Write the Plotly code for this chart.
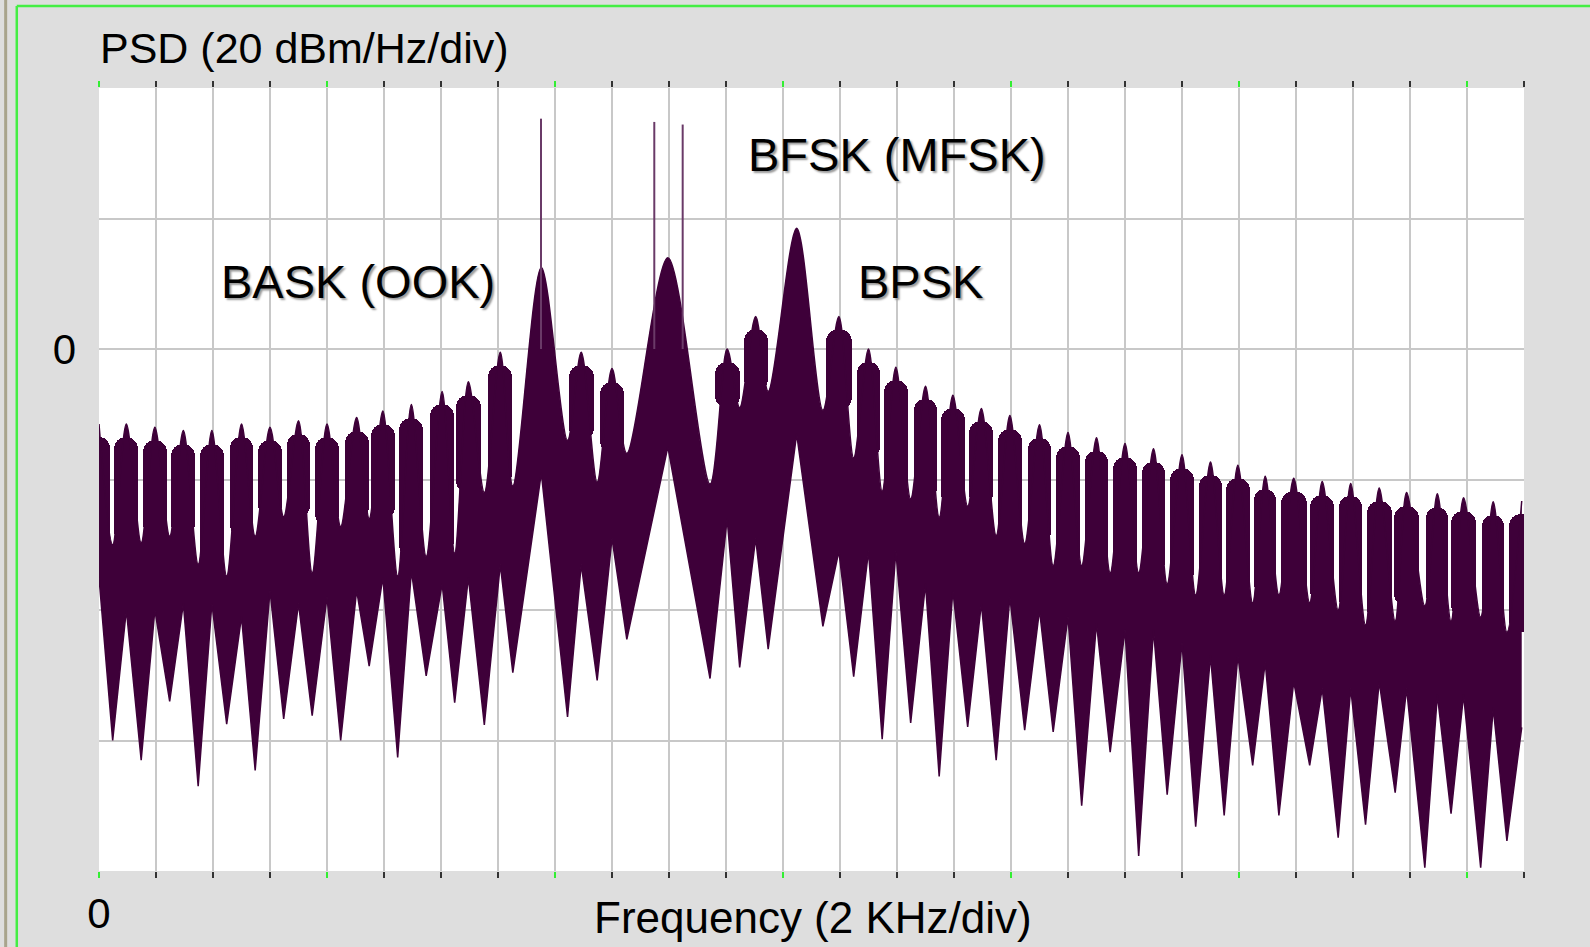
import plotly.graph_objects as go

# ---- data (frequency in kHz, PSD in dBm/Hz) ----
lobe_khz = [0.00, 0.24, 0.49, 0.74, 0.99, 1.25, 1.50, 1.75, 2.00, 2.26, 2.49, 2.74,
            3.01, 3.24, 3.52, 3.88, 4.23, 4.50, 4.99, 5.51, 5.76, 6.12, 6.49, 6.75,
            6.99, 7.25, 7.49, 7.74, 7.99, 8.25, 8.50, 8.75, 9.00, 9.25, 9.50, 9.75,
            9.99, 10.23, 10.48, 10.73, 10.98, 11.23, 11.47, 11.74, 11.97, 12.23, 12.48]
lobe_top_db = [-11.5, -11.5, -12.0, -12.5, -12.5, -11.5, -12.0, -11.0, -11.5, -10.5, -9.5, -8.5,
               -6.5, -5.0, -0.5, 12.5, -0.5, -3.0, 14.0, 0.0, 5.0, 18.5, 5.0, 0.0,
               -2.8, -5.7, -7.1, -9.1, -10.2, -11.6, -12.8, -13.6, -14.5, -15.3, -16.2, -17.3,
               -17.8, -19.5, -19.8, -20.3, -20.6, -21.3, -22.0, -22.2, -22.8, -23.4, -23.3]
lobe_floor_db = [-35, -40, -40, -39, -39, -41, -37, -39, -38, -37, -35, -34,
                 -36, -35, -33, -19, -33, -29, -15, -26, -29, -13, -31, -31,
                 -31, -36, -37, -39, -38, -40, -41, -42, -43, -43, -45, -47,
                 -47, -48, -51, -52, -52, -51, -52, -53, -53, -55, -58]
notch_khz = [0.12, 0.37, 0.62, 0.87, 1.12, 1.37, 1.62, 1.87, 2.12, 2.37, 2.62, 2.87,
             3.12, 3.38, 3.63, 4.11, 4.37, 4.63, 5.36, 5.62, 5.87, 6.35, 6.62, 6.87,
             7.12, 7.37, 7.62, 7.87, 8.12, 8.37, 8.62, 8.87, 9.12, 9.37, 9.62, 9.87,
             10.12, 10.35, 10.62, 10.87, 11.11, 11.37, 11.63, 11.86, 12.12, 12.35]
notch_top_db = [-30.0, -29.7, -28.7, -33.0, -34.8, -28.7, -25.7, -34.3, -27.2, -26.0, -34.8, -31.8,
                -31.3, -22.0, -21.0, -14.0, -20.4, -16.0, -20.7, -9.0, -6.5, -9.4, -16.7, -21.8,
                -23.0, -25.8, -24.1, -28.6, -29.8, -33.2, -33.2, -34.3, -34.3, -36.0, -37.7, -37.7,
                -38.9, -37.7, -38.9, -40.0, -42.3, -41.7, -39.4, -41.7, -41.1, -43.4]
notch_tip_db = [-60.0, -63.0, -54.0, -67.0, -57.5, -64.6, -56.7, -56.2, -60.0, -48.6, -62.6, -50.1,
                -54.2, -57.6, -49.6, -56.4, -50.8, -44.5, -50.5, -48.8, -46.0, -42.5, -50.2, -59.8,
                -57.3, -65.5, -57.9, -63.0, -58.4, -58.7, -70.0, -61.8, -77.7, -68.3, -73.2, -71.5,
                -63.8, -71.5, -63.8, -74.9, -72.9, -68.0, -79.5, -71.2, -79.5, -75.4]
main_lobe_khz = [3.88, 4.99, 6.12]          # BASK, BFSK, BPSK main lobes
carrier_khz = [3.877, 4.871, 5.120]
carrier_db = [35.3, 34.8, 34.4]

x_major = [0, 2, 4, 6, 8, 10, 12]
x_major_text = ['0', '', '', '', '', '', '']
y_grid = [-80, -60, -40, -20, 0, 20, 40]
y_grid_text = ['', '', '', '', '0', '', '']

labels = ['BASK (OOK)', 'BFSK (MFSK)', 'BPSK']
label_khz = [2.27, 7.00, 7.21]
label_db = [10.3, 29.8, 10.3]

# glyph styling for side lobes (rounded shoulders sit this far below the lobe tip)
CAP_DB = 2.0
LOBE_FILL = 0.84

# ---- envelope series: lobe centres interleaved with the nulls between them ----
env_x, env_top, env_low = [], [], []
for i in range(len(lobe_khz)):
    env_x.append(lobe_khz[i]); env_top.append(lobe_top_db[i]); env_low.append(lobe_floor_db[i])
    if i < len(notch_khz):
        env_x.append(notch_khz[i]); env_top.append(notch_top_db[i]); env_low.append(notch_tip_db[i])

# side-lobe shoulders: bars between the nulls whose tops the library rounds
bar_x, bar_base, bar_h, bar_w = [], [], [], []
for i, f in enumerate(lobe_khz):
    if f in main_lobe_khz:
        continue
    left = notch_khz[i - 1] if i > 0 else None
    right = notch_khz[i] if i < len(notch_khz) else None
    if left is not None and right is not None:
        span = right - left
        base = max(notch_top_db[i - 1], notch_top_db[i])
    else:
        n = right if right is not None else left
        span = 2 * abs(n - f)
        base = notch_top_db[i] if right is not None else notch_top_db[i - 1]
    bar_x.append(f)
    bar_base.append(base)
    bar_h.append(lobe_top_db[i] - CAP_DB - base)
    bar_w.append(span * LOBE_FILL)

C = '#3e0039'
FONT = 'Liberation Sans, Arial, sans-serif'

fig = go.Figure()
fig.add_trace(go.Scatter(x=env_x, y=env_low, mode='lines',
                         line=dict(color=C, width=1.5), hoverinfo='skip', showlegend=False))
fig.add_trace(go.Scatter(x=env_x, y=env_top, mode='lines', fill='tonexty', fillcolor=C,
                         line=dict(color=C, width=1.5, shape='spline', smoothing=0.9),
                         hoverinfo='skip', showlegend=False))
fig.add_trace(go.Bar(x=bar_x, y=bar_h, base=bar_base, width=bar_w,
                     marker=dict(color=C, line=dict(width=0), cornerradius='50%'),
                     hoverinfo='skip', showlegend=False))
# discrete carrier lines
sx, sy = [], []
for f, d in zip(carrier_khz, carrier_db):
    sx += [f, f, None]
    sy += [0, d, None]
fig.add_trace(go.Scatter(x=sx, y=sy, mode='lines', line=dict(color='#6a3a68', width=2),
                         xaxis='x2', hoverinfo='skip', showlegend=False))

grid = '#c8c8c8'
common_minor = dict(dtick=0.5, tick0=0, ticks='outside', ticklen=6, tickwidth=2, tickcolor='#333333')
fig.update_layout(
    width=1590, height=947, autosize=False,
    margin=dict(l=99, r=66, t=88, b=76),
    paper_bgcolor='#dedede', plot_bgcolor='white',
    font=dict(family=FONT, color='black'),
    barmode='overlay', bargap=0,
    xaxis=dict(range=[0, 12.5], tickvals=x_major, ticktext=x_major_text, automargin=False,
               ticks='outside', ticklen=6, tickwidth=2, tickcolor='#33ee33',
               showgrid=True, gridcolor=grid, gridwidth=1.8, zeroline=False, showline=False,
               tickfont=dict(size=42, family=FONT, color='black'), ticklabelstandoff=0,
               minor=dict(common_minor, showgrid=True, gridcolor=grid, gridwidth=1.8)),
    xaxis2=dict(range=[0, 12.5], overlaying='x', side='top', anchor='y', automargin=False,
                tickvals=x_major, ticktext=['']*len(x_major),
                ticks='outside', ticklen=6, tickwidth=2, tickcolor='#33ee33',
                showgrid=False, zeroline=False, showline=False,
                minor=dict(common_minor, showgrid=False)),
    yaxis=dict(range=[-80, 40], tickvals=y_grid, ticktext=y_grid_text, ticks='', automargin=False,
               showgrid=True, gridcolor=grid, gridwidth=1.8, zeroline=False, showline=False,
               tickfont=dict(size=42, family=FONT, color='black'), ticklabelstandoff=22),
)

fig.add_annotation(text='PSD (20 dBm/Hz/div)', xref='paper', yref='paper', x=-0.001, y=1.0515,
                   xanchor='left', yanchor='middle', showarrow=False,
                   font=dict(size=43, family=FONT, color='black'))
fig.add_annotation(text='Frequency (2 KHz/div)', xref='paper', yref='paper', x=0.501, y=-0.0596,
                   xanchor='center', yanchor='middle', showarrow=False,
                   font=dict(size=44, family=FONT, color='black'))
for t, fx, fy in zip(labels, label_khz, label_db):
    fig.add_annotation(text=t, x=fx, y=fy, xref='x', yref='y', xanchor='center', yanchor='middle',
                       showarrow=False,
                       font=dict(size=47, family=FONT, color='black', shadow='2px 2px 2px #9a9a9a'))

# window frame lines
fig.add_shape(type='line', xref='paper', yref='paper', x0=-0.0577, x1=1.05, y0=1.1047, y1=1.1047,
              line=dict(color='#44ee44', width=2.5))
fig.add_shape(type='line', xref='paper', yref='paper', x0=-0.0577, x1=-0.0577, y0=-0.1, y1=1.1047,
              line=dict(color='#44ee44', width=2.5))
fig.add_shape(type='line', xref='paper', yref='paper', x0=-0.0655, x1=-0.0655, y0=-0.1, y1=1.12,
              line=dict(color='#a8a48c', width=3))

fig.write_html("out.html", config={'displayModeBar': False},
               post_script="document.body.style.margin='0px';document.body.style.overflow='hidden';")
